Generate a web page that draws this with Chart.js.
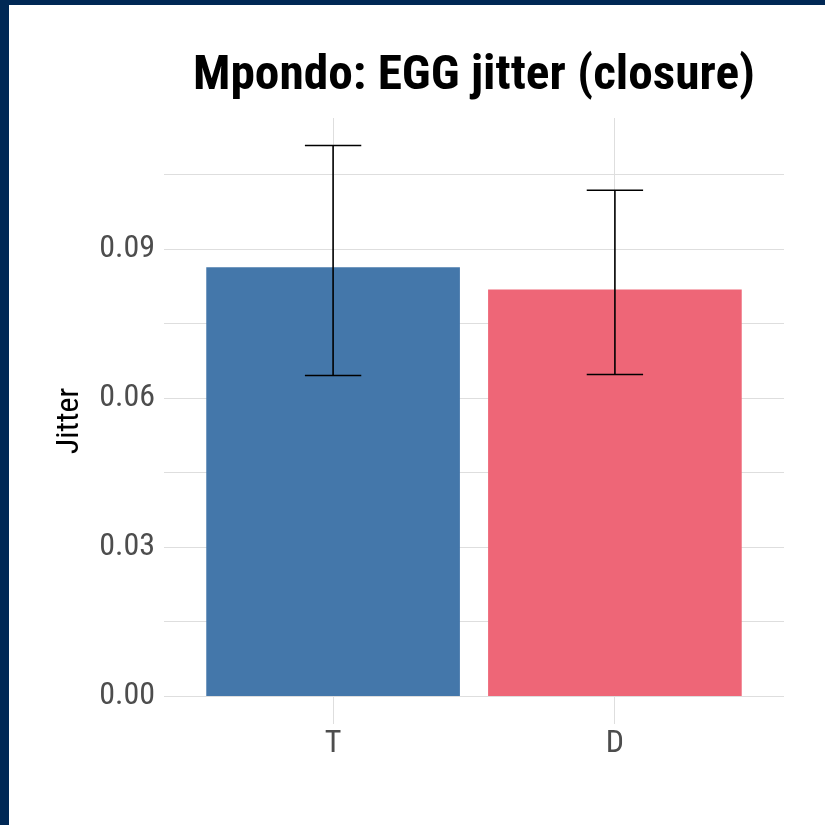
<!DOCTYPE html>
<html>
<head>
<meta charset="utf-8">
<script src="https://cdn.jsdelivr.net/npm/chart.js@4.4.1/dist/chart.umd.min.js"></script>
<style>
  html, body { margin: 0; padding: 0; background: #002855; width: 825px; height: 825px; overflow: hidden; }
  #jitterChart { position: absolute; left: 9px; top: 5px; background: #fff; }
</style>
</head>
<body>
<canvas id="jitterChart" width="816" height="820"></canvas>
<script>
// data
const categories = ['T', 'D'];
const meanJitter = [0.0864, 0.0819];
const errLow     = [0.0646, 0.0648];
const errHigh    = [0.1109, 0.1019];
const yTickLabels = [0, 0.03, 0.06, 0.09];

const titleText = 'Mpondo: EGG jitter (closure)';
const barColors = ['#4477AA', '#EE6677'];

// pick a condensed face if there is one
function pickFont(cands) {
  const c = document.createElement('canvas').getContext('2d');
  const probe = 'Mpondo EGG jitter 0.09';
  c.font = '40px monospace';
  const base = c.measureText(probe).width;
  for (const f of cands) {
    c.font = `40px "${f}", monospace`;
    if (Math.abs(c.measureText(probe).width - base) > 0.5) return f;
  }
  return 'Roboto';
}
const family = pickFont(['Roboto Condensed', 'Liberation Sans Narrow', 'DejaVu Sans Condensed']);

const xPos = categories.map((_, i) => i + 1);
const yTop = Math.max(...errHigh);
const yMin = -0.05 * yTop;
const yMax = yTop * 1.05;

// major ticks plus the minor lines half way between
const yStep = yTickLabels[1] - yTickLabels[0];
const yGrid = [];
for (let v = 0; v <= yMax + 1e-9; v += yStep / 2) yGrid.push(+v.toFixed(4));
const isMajor = (v) => yTickLabels.some(t => Math.abs(t - v) < 1e-6);

const errorBars = {
  id: 'errorBars',
  afterDatasetsDraw(chart) {
    const { ctx, scales: { x, y } } = chart;
    ctx.save();
    ctx.strokeStyle = '#000';
    ctx.lineWidth = 1.6;
    xPos.forEach((p, i) => {
      const cx = x.getPixelForValue(p);
      const half = x.getPixelForValue(p + 0.1) - cx;
      const lo = y.getPixelForValue(errLow[i]);
      const hi = y.getPixelForValue(errHigh[i]);
      ctx.beginPath();
      ctx.moveTo(cx, lo); ctx.lineTo(cx, hi);
      ctx.moveTo(cx - half, lo); ctx.lineTo(cx + half, lo);
      ctx.moveTo(cx - half, hi); ctx.lineTo(cx + half, hi);
      ctx.stroke();
    });
    ctx.restore();
  }
};

// title centred over the panel, like ggplot does
const panelTitle = {
  id: 'panelTitle',
  afterDraw(chart) {
    const { ctx, chartArea } = chart;
    ctx.save();
    ctx.font = `bold 49px "${family}", Roboto, sans-serif`;
    ctx.fillStyle = '#000';
    ctx.textBaseline = 'alphabetic';
    ctx.textAlign = 'center';
    const w = ctx.measureText(titleText).width;
    const sx = 562 / w;
    const cx = (chartArea.left + chartArea.right) / 2;
    ctx.translate(cx, 84);
    ctx.scale(sx, 1);
    ctx.fillText(titleText, 0, 0);
    ctx.restore();
  }
};

new Chart(document.getElementById('jitterChart'), {
  type: 'bar',
  data: {
    datasets: [{
      data: xPos.map((p, i) => ({ x: p, y: meanJitter[i] })),
      backgroundColor: barColors,
      borderWidth: 0,
      barPercentage: 0.9,
      categoryPercentage: 1,
    }],
  },
  options: {
    responsive: false,
    devicePixelRatio: 1,
    animation: false,
    layout: { padding: { left: 0, right: 41, top: 113, bottom: 0 } },
    plugins: { legend: { display: false }, tooltip: { enabled: false }, title: { display: false } },
    scales: {
      x: {
        type: 'linear',
        offset: false,
        min: 0.6 - 0.2,
        max: categories.length + 0.6,
        afterBuildTicks: (s) => { s.ticks = xPos.map(v => ({ value: v })); },
        afterFit: (s) => { s.height = 101; },
        grid: { color: '#dedede', lineWidth: 1, drawTicks: false, offset: false },
        border: { display: false },
        ticks: {
          padding: 1,
          color: '#4d4d4d',
          font: { family: `"${family}", Roboto`, size: 32 },
          callback: (v) => categories[v - 1] ?? '',
        },
      },
      y: {
        min: yMin,
        max: yMax,
        afterBuildTicks: (s) => { s.ticks = yGrid.map(v => ({ value: v })); },
        afterFit: (s) => { s.width = 155; },
        grid: { color: '#dedede', lineWidth: 1, drawTicks: false },
        border: { display: false },
        ticks: {
          padding: 9,
          color: '#4d4d4d',
          font: { family: `"${family}", Roboto`, size: 32 },
          callback: (v) => isMajor(v) ? v.toFixed(2) : '',
        },
        title: {
          display: true,
          text: 'Jitter',
          color: '#000',
          font: { family: `"${family}", Roboto`, size: 32, lineHeight: 1.2 },
          padding: { top: 42, bottom: 0 },
        },
      },
    },
  },
  plugins: [errorBars, panelTitle],
});
</script>
</body>
</html>
